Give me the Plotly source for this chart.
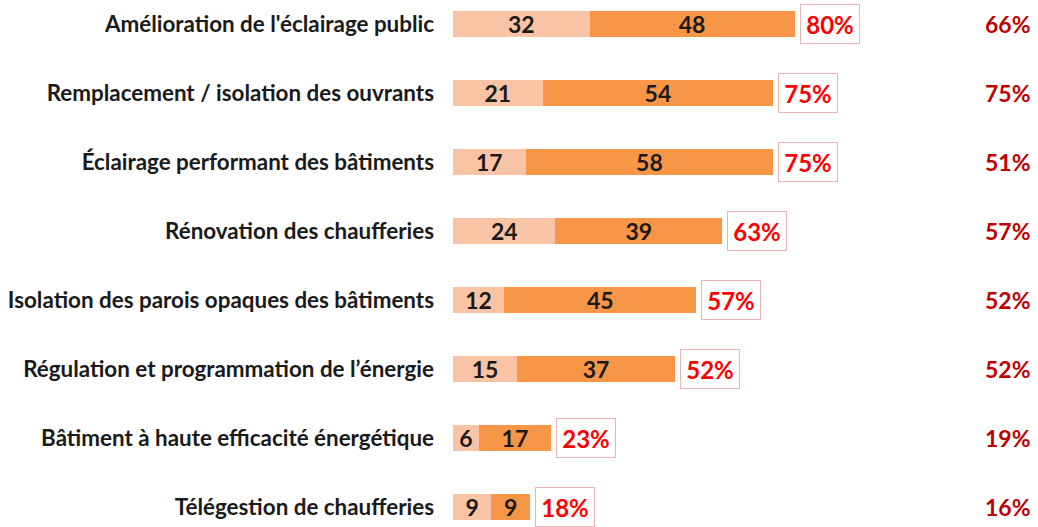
import plotly.graph_objects as go

categories = [
    "Amélioration de l'éclairage public",
    "Remplacement / isolation des ouvrants",
    "Éclairage performant des bâtiments",
    "Rénovation des chaufferies",
    "Isolation des parois opaques des bâtiments",
    "Régulation et programmation de l’énergie",
    "Bâtiment à haute efficacité énergétique",
    "Télégestion de chaufferies",
]
part_a = [32, 21, 17, 24, 12, 15, 6, 9]
part_b = [48, 54, 58, 39, 45, 37, 17, 9]
totals = [80, 75, 75, 63, 57, 52, 23, 18]
right_col = [66, 75, 51, 57, 52, 52, 19, 16]

FONT = "Lato"
fig = go.Figure()
for vals, col in ((part_a, "#F9C3A6"), (part_b, "#F79646")):
    fig.add_trace(go.Bar(
        y=categories, x=vals, orientation="h", marker=dict(color=col, line_width=0),
        text=[str(v) for v in vals], textposition="inside", insidetextanchor="middle",
        textangle=0,
        textfont=dict(family=FONT, size=23, color="#1a1a1a", weight="bold"),
        constraintext="none", width=0.39, showlegend=False, hoverinfo="skip"))

for c, t in zip(categories, totals):
    fig.add_annotation(x=t, y=c, xref="x", yref="y", text=f"{t}%", showarrow=False,
                       xanchor="left", xshift=5, width=56, height=36,
                       bordercolor="#E8B4B4", borderwidth=1, bgcolor="white",
                       font=dict(family=FONT, size=24, color="#FF0000", weight="bold"))

for c, v in zip(categories, right_col):
    fig.add_annotation(x=1.358, y=c, xref="paper", yref="y", text=f"{v}%", showarrow=False,
                       xanchor="right",
                       font=dict(family=FONT, size=23, color="#C00000", weight="bold"))

fig.update_layout(
    barmode="stack", width=1038, height=527,
    margin=dict(l=453, r=157.5, t=0, b=0),
    paper_bgcolor="white", plot_bgcolor="white",
    xaxis=dict(range=[0, 100], visible=False),
    yaxis=dict(categoryorder="array", categoryarray=categories,
               range=[7.29, -0.348], showgrid=False, zeroline=False, showline=False,
               ticks="", ticklabelstandoff=18,
               tickfont=dict(family=FONT, size=22.4, color="#1a1a1a", weight="bold")),
)
fig.write_html("out.html")
